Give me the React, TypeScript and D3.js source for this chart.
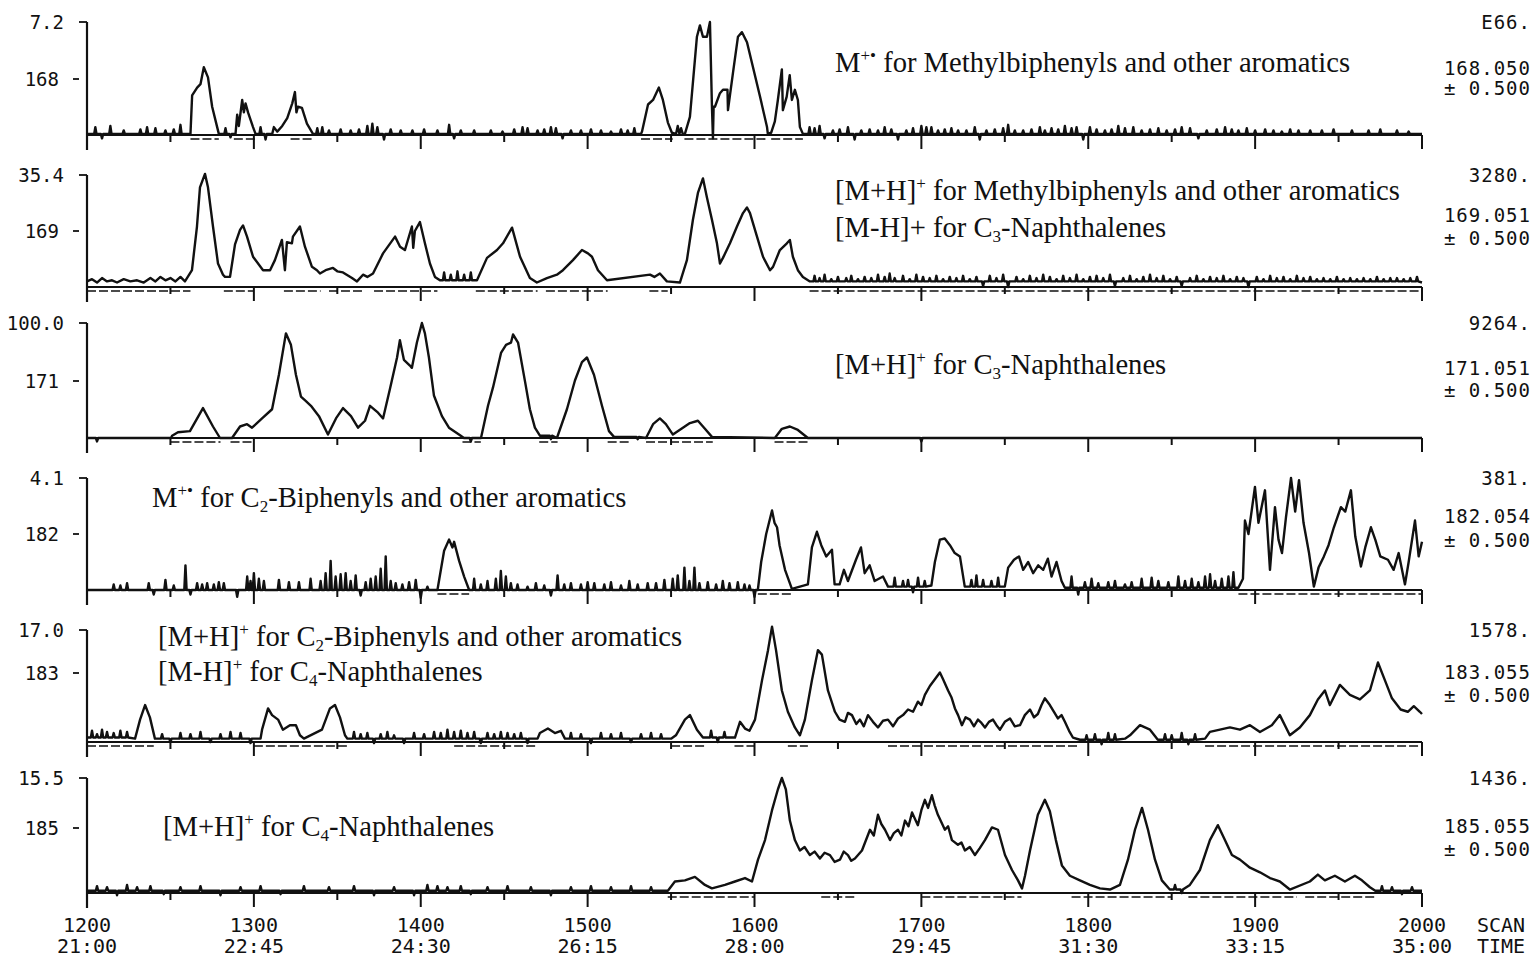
import React, { useEffect, useRef } from 'react';
import * as d3 from 'd3';

// scan axis
const scanTicks = [1200, 1300, 1400, 1500, 1600, 1700, 1800, 1900, 2000];
const timeLabels = ['21:00', '22:45', '24:30', '26:15', '28:00', '29:45', '31:30', '33:15', '35:00'];

// per panel labels
const fullScale = ['7.2', '35.4', '100.0', '4.1', '17.0', '15.5'];
const massLabels = ['168', '169', '171', '182', '183', '185'];
const counts = ['E66.', '3280.', '9264.', '381.', '1578.', '1436.'];
const exactMass = ['168.050', '169.051', '171.051', '182.054', '183.055', '185.055'];
const massWindow = '\u00b1  0.500';

// traces: [scan, % of full scale]
const p1Trace = [[1200,1],[1262,1],[1263,35],[1266,42],[1268,45],[1270,60],[1272.5,51],[1275,25],[1278,7],[1279,1],
  [1289,1],[1290,18],[1291,8],[1293,31],[1294,20],[1295,28],[1296.5,20],[1299.5,7],[1301,1],
  [1311,1],[1312,7],[1314,3],[1317,8],[1320,15],[1323,28],[1324.6,38],[1325.5,20],[1326.4,25],[1328.8,24],[1331.8,10],[1335.4,1],
  [1532,1],[1532.6,3],[1536.2,27],[1539.2,31],[1542.7,42],[1545.1,31],[1548.1,11],[1550.5,2],
  [1553,1],[1554,8],[1555,1],[1556,6],[1557,1],
  [1558.3,1],[1561.3,16],[1565.5,87],[1567.3,97],[1569.1,87],[1571.5,87],[1573.3,100],[1574.5,25],[1575.1,-3],[1575.5,25],[1576.3,25],[1579.3,37],[1581.1,40],[1583.8,40],[1584.1,22],[1587.1,55],[1590.1,87],[1592.5,91],[1595.5,82],[1599.1,60],[1603.3,34],[1607.5,7],[1608,1],
  [1610,2],[1612.2,12],[1614,31],[1616.4,58],[1617,22],[1619.3,34],[1621.1,53],[1622.4,31],[1624.2,40],[1626,31],[1627.2,7],[1629,1],[2000,1]];

const p2Trace = [[1200,5],[1203,7],[1206,4],[1209,8],[1212,5],[1215,6],[1218,4],[1222,7],[1226,5],[1230,6],[1234,4],[1238,8],[1241,5],[1244,9],[1247,6],[1250,8],[1253,5],[1256,9],[1258.7,5],
  [1262.9,15],[1265.9,54],[1267.7,89],[1270.7,101],[1272.5,89],[1275.5,54],[1278.5,21],[1281.5,11],[1282.7,9],
  [1285.7,9],[1288.7,38],[1291.7,51],[1293.5,55],[1295.9,45],[1299.5,27],[1305.5,15],[1309.7,15],
  [1312.6,24],[1316.8,42],[1318.6,15],[1319.8,40],[1322.8,39],[1323.4,45],[1327.6,54],[1330.6,36],[1334.8,18],[1337.8,15],
  [1339.6,12],[1343,15],[1347.4,17],[1350,14],[1353.4,13],[1358.8,8],[1361.8,5],
  [1365.4,11],[1368,9],[1371.4,12],[1377.4,30],[1384.6,45],[1387.6,36],[1390.5,33],[1394.7,54],[1395.5,35],[1396.5,50],[1399.5,58],[1402.5,39],[1405.5,21],[1408.5,9],[1411.5,6],
  [1433.7,6],[1439.7,26],[1445.7,33],[1449.3,39],[1454.7,53],[1459.5,27],[1465.4,8],[1469.6,4],
  [1475.6,8],[1481.6,11],[1485.2,15],[1491.2,24],[1496.6,33],[1500.2,30],[1502.6,27],[1506.2,15],[1511.6,6],
  [1537.4,11],[1540,9],[1543.3,12],[1547.5,5],
  [1555.3,4],[1559.5,24],[1563.1,60],[1566.1,84],[1569.1,97],[1571.5,80],[1574.5,60],[1577.5,39],[1579.3,21],[1581.1,26],[1585.3,39],[1589.5,54],[1593.1,66],[1595.5,71],[1597.3,66],[1601.5,45],[1605.1,27],[1609.3,15],[1611.1,18],[1615.2,33],[1619.4,39],[1621.2,42],[1623,27],[1626,15],[1629,9],[1633.2,5],[2000,4]];

const p3Trace = [[1200,0],[1250.3,0],[1251,2],[1254.5,5],[1261.7,6],[1269.5,26],[1275.5,10],[1279.7,0],
  [1286.9,0],[1291.7,10],[1295.9,12],[1298.9,9],[1304.9,17],[1310.9,25],[1315,55],[1319.2,91],[1322.2,81],[1325.2,55],[1328.2,36],[1331.2,32],[1334.2,28],[1339,19],[1344.4,3],
  [1349.2,17],[1353.4,26],[1358.2,19],[1362.4,9],[1366.6,15],[1369.6,28],[1374.4,22],[1377.4,17],[1381.6,43],[1385.8,70],[1387.5,85],[1389.9,68],[1393.5,63],[1394.7,61],[1397.7,83],[1400.7,100],[1402.5,91],[1404.9,70],[1407.9,37],[1412.7,19],[1416.9,9],[1422.9,3],[1425.9,0],
  [1436.1,0],[1440.3,28],[1443.3,44],[1448.1,74],[1451.1,81],[1454.1,83],[1455.3,90],[1458.3,83],[1462.5,49],[1465.4,25],[1468.4,9],[1471.4,2],
  [1481.6,0],[1487.6,25],[1492.4,50],[1496.6,66],[1499.6,70],[1503.8,55],[1508.6,28],[1512.8,6],[1515.8,1],
  [1535,0],[1539.2,12],[1543.3,17],[1546.9,12],[1551.1,3],[1557.1,9],[1561.3,13],[1566.1,15],[1570.3,8],[1574.5,1],
  [1612.2,0],[1616.4,8],[1621.2,10],[1626,7],[1632,0],[2000,0]];

const p4Trace = [[1200,0],
  [1410,0],[1414,35],[1417,45],[1419,38],[1420,43],[1423,26],[1426,12],[1429,0],
  [1602,0],[1604,25],[1607,50],[1610.5,71],[1612,60],[1613.5,56],[1615,40],[1618.3,18],[1622.4,1],
  [1632,5],[1634.4,38],[1637.4,52],[1640,40],[1643,30],[1646.4,36],[1648,5],[1651,5],[1653.6,18],[1656,8],[1660.8,27],[1663.8,38],[1666,15],[1669,22],[1672,8],[1677,12],[1680,3],
  [1706,4],[1708.1,25],[1711.1,45],[1714,46],[1717.1,40],[1720,33],[1723.1,30],[1726,3],
  [1750,3],[1752,20],[1755.5,27],[1758.5,30],[1761,18],[1764,25],[1767,15],[1770,22],[1773,18],[1775.8,28],[1778,12],[1781,25],[1784,8],[1786,2],
  [1890,2],[1892.7,10],[1893.9,62],[1896,50],[1899.9,92],[1902,60],[1905.9,89],[1908.9,18],[1911.9,74],[1914,45],[1916.1,33],[1918.5,65],[1921.5,100],[1924,70],[1926.3,98],[1929,60],[1932.3,33],[1935.2,3],[1938,20],[1941.2,30],[1944,40],[1947.2,56],[1951.4,74],[1954,70],[1957.4,89],[1960,48],[1963.4,21],[1966,38],[1969.4,56],[1972,45],[1975,30],[1979.6,27],[1983,18],[1986,33],[1989.8,5],[1992,25],[1995.8,62],[1998,30],[2000,43]];

const p5Trace = [[1200,4],[1228.8,3],[1231.8,20],[1234.8,33],[1237.7,22],[1240.7,3],
  [1304,3],[1304.9,11],[1308.5,30],[1310.9,24],[1314.5,20],[1317.4,11],[1321.6,15],[1325.2,15],[1327.6,6],[1330,3],
  [1340.8,11],[1345.6,30],[1348.6,33],[1351.6,22],[1354.6,6],[1356,3],
  [1470,3],[1471.4,8],[1476.2,12],[1480.4,8],[1484,10],[1486.4,3],
  [1550,3],[1552.9,6],[1558.3,20],[1561.3,24],[1565.5,11],[1569.1,4],
  [1588.3,4],[1591.3,18],[1594.3,12],[1597,10],[1600.3,20],[1604.5,55],[1608.1,82],[1610.5,103],[1612.9,82],[1616.4,46],[1620,27],[1624.2,13],[1627.2,6],[1630.2,20],[1634.4,55],[1638,82],[1640.4,78],[1644,46],[1648.2,27],[1651,20],[1654.2,18],[1656,26],[1658.4,24],[1661,16],[1663.2,20],[1665.5,14],[1668,24],[1671,18],[1674,13],[1677,19],[1680,20],[1683,14],[1686,21],[1689,24],[1692,29],[1695,27],[1697.9,36],[1700,33],[1702.1,42],[1705.1,50],[1708.1,56],[1711.1,62],[1713,56],[1716,46],[1718,40],[1720.1,30],[1722,24],[1724.3,15],[1726.5,22],[1729.1,20],[1731.5,14],[1733.9,20],[1736,17],[1738.1,13],[1740.5,18],[1742.9,20],[1745,15],[1747.1,11],[1750,18],[1753.1,21],[1756,14],[1759.1,15],[1762,24],[1765.1,29],[1767.5,22],[1769.8,25],[1772,33],[1774,39],[1777,33],[1779,28],[1781.8,21],[1784,24],[1786,18],[1788.5,10],[1790.8,4],[1795,2],
  [1822,3],[1825,6],[1831,15],[1837,11],[1841.7,2],
  [1870,3],[1872.9,9],[1878.9,11],[1884.9,13],[1890.9,11],[1896.9,15],[1902.9,9],[1910,15],[1914.8,24],[1920.8,6],[1926.8,13],[1932.8,24],[1937.6,38],[1941.8,46],[1944.8,33],[1950.8,51],[1956.8,42],[1962.8,38],[1968.8,46],[1973.6,71],[1977.8,55],[1982,39],[1987.2,29],[1991.5,27],[1995.1,32],[1998.7,27],[2000,25]];

const p6Trace = [[1200,2],[1548.1,2],[1552.3,10],[1558.3,11],[1564.3,14],[1570.3,7],[1574.5,4],[1582.3,7],[1588.3,10],[1594.3,13],[1598.5,10],[1602.1,29],[1606.3,46],[1610.5,72],[1614,90],[1616.4,100],[1618.8,90],[1621.2,63],[1624.2,46],[1627.2,37],[1630,40],[1633.2,33],[1636,36],[1639.2,30],[1642,35],[1645.2,33],[1648,27],[1651.2,29],[1653.5,36],[1656,33],[1658,28],[1660.2,30],[1664.4,37],[1669.2,55],[1671.5,50],[1674,68],[1676,60],[1678.2,55],[1681.2,46],[1683.5,52],[1686,55],[1688,50],[1690.2,63],[1692.3,58],[1694.4,70],[1697.9,59],[1700,72],[1702.1,81],[1704,74],[1706.3,85],[1708,76],[1709.9,68],[1714.1,55],[1716,58],[1718.3,46],[1721.9,42],[1724,44],[1726.1,37],[1729,40],[1732.1,33],[1735,39],[1738.1,46],[1742.3,57],[1745.9,55],[1750.1,33],[1754.3,20],[1757.9,11],[1760.3,4],[1762.1,15],[1765.1,37],[1769.8,68],[1774,81],[1777,71],[1780.6,46],[1784.2,24],[1789,15],[1795,11],[1801,7],[1807,4],[1813,3],[1819,7],[1823.8,29],[1828,55],[1832.2,74],[1835.8,55],[1840,29],[1844.1,11],[1848.9,3],
  [1860.9,7],[1866.9,20],[1872.9,46],[1877.7,59],[1881.9,46],[1886.1,33],[1890.9,29],[1896.9,22],[1902.9,18],[1908.9,13],[1914.8,10],[1920.8,3],
  [1932.8,10],[1937.6,16],[1941.8,11],[1947.8,15],[1953.8,10],[1959.8,15],[1964,11],[1968.8,5],[1972,2],[2000,2]];

// baseline noise spikes: [scan, %]
const p1Noise = [[1205,6],[1209,-4],[1214,7],[1222,3],[1232,4],[1236,6],[1241,5],[1247,3],[1252,4],[1256,8],[1283,5],[1286,-3],[1304,6],[1307,-5],
  [1338,5],[1341,6],[1345,3],[1352,4],[1358,3],[1363,4],[1368,7],[1371,9],[1374,6],[1378,-5],[1382,4],[1388,3],[1395,3],[1402,4],[1410,3],[1417,8],[1420,-4],[1424,3],[1432,3],[1442,3],[1449,2],[1456,4],[1461,6],[1464,5],[1470,3],[1474,4],[1478,6],[1481,5],[1485,-4],[1490,3],[1496,3],[1502,4],[1508,3],[1514,2],[1520,4],[1524,3],[1528,5],
  [1633,6],[1636,5],[1639,7],[1642,-4],[1647,3],[1651,4],[1656,6],[1660,-5],[1664,3],[1669,4],[1674,3],[1678,6],[1682,4],[1686,-5],[1691,3],[1695,5],[1700,7],[1703,6],[1706,6],[1710,3],[1714,4],[1718,5],[1722,3],[1727,3],[1732,6],[1735,-5],[1739,3],[1744,4],[1749,5],[1752,8],[1756,3],[1761,3],[1766,4],[1771,6],[1774,3],[1778,5],[1782,4],[1786,7],[1790,5],[1793,6],[1797,-5],[1801,6],[1805,4],[1810,3],[1814,4],[1818,7],[1822,5],[1827,6],[1832,3],[1837,4],[1842,5],[1847,3],[1852,4],[1856,6],[1861,5],[1866,-4],[1871,3],[1877,4],[1882,6],[1886,4],[1890,3],[1895,5],[1900,3],[1906,4],[1911,3],[1916,2],[1921,4],[1926,3],[1933,3],[1940,3],[1947,4],[1958,3],[1968,3],[1975,4],[1985,3],[1992,2]];

const p2Noise = [[1414,7],[1418,5],[1422,8],[1426,5],[1430,7],[1515,8],[1519,5],[1523,-3],[1527,7],[1531,4],
  [1636,5],[1639,3],[1642,6],[1646,2],[1650,4],[1655,3],[1658,5],[1662,2],[1666,4],[1670,3],[1674,6],[1678,4],[1681,7],[1684,3],[1689,5],[1693,2],[1697,6],[1701,4],[1705,3],[1709,5],[1713,2],[1717,4],[1721,3],[1725,5],[1729,2],[1733,4],[1737,-4],[1741,5],[1745,3],[1749,6],[1752,-5],[1757,4],[1761,2],[1765,5],[1769,3],[1773,6],[1777,4],[1781,2],[1785,5],[1789,3],[1793,6],[1797,2],[1801,4],[1805,5],[1809,3],[1813,6],[1816,-4],[1821,3],[1825,5],[1829,2],[1833,4],[1837,6],[1841,3],[1845,5],[1849,2],[1853,4],[1856,-4],[1861,3],[1865,5],[1869,2],[1873,4],[1877,3],[1881,5],[1885,2],[1889,4],[1893,3],[1896,-5],[1901,4],[1905,2],[1909,5],[1913,3],[1917,4],[1921,2],[1925,5],[1929,3],[1933,4],[1937,2],[1941,3],[1945,2],[1949,4],[1953,2],[1957,3],[1961,2],[1965,3],[1969,2],[1973,4],[1977,2],[1981,3],[1985,3],[1989,2],[1993,3],[1997,4]];

const p3Noise = [[1206,-3],[1430,-3],[1478,-3],[1530,-2],[1700,-3]];

const p4Noise = [[1216,5],[1220,4],[1224,6],[1237,6],[1240,-4],[1247,9],[1252,4],[1259,22],[1262,-4],[1266,6],[1269,5],[1272,6],[1276,5],[1279,7],[1282,6],[1290,-6],[1296,12],[1298,8],[1300,15],[1303,10],[1306,8],[1315,9],[1321,7],[1327,7],[1334,10],[1340,8],[1343,15],[1346,26],[1349,12],[1352,14],[1355,15],[1358,8],[1361,13],[1364,-5],[1367,7],[1370,10],[1373,12],[1376,19],[1379,30],[1382,8],[1385,6],[1389,5],[1393,7],[1397,9],[1400,-7],[1404,3],
  [1432,10],[1436,5],[1440,8],[1445,10],[1448,17],[1451,12],[1454,6],[1458,5],[1464,3],[1469,6],[1474,4],[1478,-5],[1482,13],[1486,5],[1490,6],[1496,5],[1500,7],[1504,6],[1510,5],[1514,7],[1520,4],[1525,8],[1530,5],[1536,6],[1541,6],[1546,9],[1551,10],[1554,13],[1558,20],[1561,8],[1564,20],[1567,6],[1572,7],[1577,5],[1581,8],[1585,6],[1590,7],[1594,5],[1597,4],[1600,-6],
  [1684,8],[1689,5],[1692,6],[1695,-5],[1698,8],[1702,5],[1730,6],[1733,10],[1737,6],[1742,5],[1746,8],[1790,10],[1794,-6],[1798,5],[1802,8],[1806,4],[1812,5],[1816,6],[1822,3],[1826,5],[1832,8],[1838,9],[1842,6],[1848,5],[1854,10],[1858,6],[1862,8],[1866,5],[1870,10],[1873,12],[1876,6],[1880,8],[1884,10],[1887,14]];

const p5Noise = [[1203,6],[1206,3],[1209,7],[1212,5],[1216,4],[1220,6],[1224,5],[1245,4],[1250,-3],[1256,5],[1262,4],[1268,6],[1274,-3],[1280,4],[1286,6],[1292,5],[1298,-4],[1334,5],[1337,-3],[1360,6],[1364,4],[1368,5],[1372,-4],[1376,4],[1380,6],[1384,3],[1390,-4],[1396,5],[1402,4],[1408,6],[1412,5],[1416,8],[1420,6],[1424,7],[1428,5],[1432,6],[1436,-4],[1440,5],[1444,4],[1448,6],[1452,5],[1456,4],[1460,5],[1464,-4],[1490,5],[1496,4],[1502,-4],[1508,5],[1514,4],[1520,5],[1526,-3],[1532,4],[1538,5],[1544,4],[1574,6],[1578,-4],[1582,5],[1799,4],[1804,5],[1808,-4],[1812,6],[1816,5],[1846,5],[1850,4],[1856,6],[1860,-4],[1864,5]];

const p6Noise = [[1206,4],[1212,3],[1218,-4],[1224,5],[1230,3],[1238,4],[1246,-3],[1256,3],[1268,4],[1280,-4],[1292,3],[1304,4],[1316,-3],[1330,4],[1345,3],[1360,4],[1372,-4],[1384,3],[1396,-4],[1404,5],[1410,4],[1416,3],[1424,4],[1430,-3],[1440,3],[1452,4],[1466,3],[1478,-4],[1490,3],[1502,4],[1514,3],[1526,4],[1538,3],[1852,4],[1856,-3],[1924,4],[1928,-3],[1976,4],[1982,3],[1988,-3],[1994,3]];

// integration marks drawn under the baseline: [fromScan, toScan]
const p1Marks = [[1262,1279],[1288,1301],[1322,1336],[1532,1551],[1558,1608],[1610,1629]];
const p2Marks = [[1200,1262],[1282,1300],[1318,1340],[1345,1365],[1372,1410],[1433,1470],[1475,1512],[1537,1548],[1633,2000]];
const p3Marks = [[1250,1280],[1286,1300],[1425,1436],[1471,1482],[1512,1525],[1535,1575],[1612,1632]];
const p4Marks = [[1410,1429],[1602,1622],[1890,2000]];
const p5Marks = [[1200,1240],[1300,1356],[1420,1470],[1550,1570],[1588,1600],[1620,1632],[1680,1795],[1870,2000]];
const p6Marks = [[1548,1600],[1640,1660],[1700,1760],[1790,1850],[1860,1925],[1930,1972]];

// annotation lines: [text, 'sup' | 'sub' | '']
const p1Notes = [[['M',''],['+\u2022','sup'],[' for Methylbiphenyls and other aromatics','']]];
const p2Notes = [[['[M+H]',''],['+','sup'],[' for Methylbiphenyls and other aromatics','']],
  [['[M-H]+ for C',''],['3','sub'],['-Naphthalenes','']]];
const p3Notes = [[['[M+H]',''],['+','sup'],[' for C',''],['3','sub'],['-Naphthalenes','']]];
const p4Notes = [[['M',''],['+\u2022','sup'],[' for C',''],['2','sub'],['-Biphenyls and other aromatics','']]];
const p5Notes = [[['[M+H]',''],['+','sup'],[' for C',''],['2','sub'],['-Biphenyls and other aromatics','']],
  [['[M-H]',''],['+','sup'],[' for C',''],['4','sub'],['-Naphthalenes','']]];
const p6Notes = [[['[M+H]',''],['+','sup'],[' for C',''],['4','sub'],['-Naphthalenes','']]];

const traces = [p1Trace, p2Trace, p3Trace, p4Trace, p5Trace, p6Trace];
const noises = [p1Noise, p2Noise, p3Noise, p4Noise, p5Noise, p6Noise];
const marks = [p1Marks, p2Marks, p3Marks, p4Marks, p5Marks, p6Marks];
const notes = [p1Notes, p2Notes, p3Notes, p4Notes, p5Notes, p6Notes];

// layout
const tops = [22, 175, 323, 478, 630, 778];
const bases = [135, 287, 438, 590, 742, 893];
const midY = [79, 231, 381, 534, 673, 828];
const noteX = [835, 835, 835, 152, 158, 163];
const noteY = [[72], [200, 237], [374], [507], [646, 681], [836]];
const rightY = [[22, 68, 88], [175, 215, 238], [323, 368, 390], [478, 516, 540], [630, 672, 695], [778, 826, 849]];

const MONO = "'DejaVu Sans Mono', 'Liberation Mono', monospace";
const SERIF = "'Liberation Serif', 'Times New Roman', serif";
const INK = '#111';
const NOTE_SIZE = 28.6;

// put noise spikes into the flat stretches between peaks
const mergeNoise = (trace, noise) => {
  const out = [];
  for (let i = 0; i < trace.length; i++) {
    const p = trace[i];
    out.push(p);
    const q = trace[i + 1];
    if (!q) break;
    if (q[0] - p[0] > 3 && p[1] <= 8 && q[1] <= 8) {
      const lvl = p[1];
      noise
        .filter(n => n[0] > p[0] + 1 && n[0] < q[0] - 1)
        .forEach(n => {
          out.push([n[0] - 0.7, lvl]);
          out.push([n[0], lvl + n[1]]);
          out.push([n[0] + 0.7, lvl]);
        });
    }
  }
  return out;
};

export default function App() {
  const ref = useRef(null);

  useEffect(() => {
    document.body.style.margin = '0';
    const svg = d3.select(ref.current);
    svg.selectAll('*').remove();

    const x = d3.scaleLinear().domain([1200, 2000]).range([87, 1422]);
    const allTicks = x.ticks(16);

    traces.forEach((trace, i) => {
      const base = bases[i];
      const y = d3.scaleLinear().domain([0, 100]).range([base, tops[i]]);
      const g = svg.append('g');

      /* ------- AXES -------*/
      g.append('line')
        .attr('x1', x(1200)).attr('x2', x(2000))
        .attr('y1', base).attr('y2', base)
        .attr('stroke', INK).attr('stroke-width', 1.8);
      g.selectAll('line.tick')
        .data(allTicks.filter(t => t > 1200))
        .enter()
        .append('line')
        .attr('class', 'tick')
        .attr('x1', d => x(d)).attr('x2', d => x(d))
        .attr('y1', base).attr('y2', d => base + (d % 100 === 0 ? 14 : 7))
        .attr('stroke', INK).attr('stroke-width', 2);
      g.append('line')
        .attr('x1', x(1200)).attr('x2', x(1200))
        .attr('y1', tops[i]).attr('y2', base + 15)
        .attr('stroke', INK).attr('stroke-width', 2.2);
      g.append('line')
        .attr('x1', x(1200) - 8).attr('x2', x(1200))
        .attr('y1', tops[i]).attr('y2', tops[i])
        .attr('stroke', INK).attr('stroke-width', 1.8);
      g.append('line')
        .attr('x1', x(1200) - 14).attr('x2', x(1200) - 8)
        .attr('y1', midY[i]).attr('y2', midY[i])
        .attr('stroke', INK).attr('stroke-width', 1.8);

      g.append('text')
        .attr('x', 64).attr('y', tops[i])
        .attr('text-anchor', 'end').attr('dominant-baseline', 'central')
        .attr('font-family', MONO).attr('font-size', 19)
        .attr('fill', INK).text(fullScale[i]);
      g.append('text')
        .attr('x', 59).attr('y', midY[i])
        .attr('text-anchor', 'end').attr('dominant-baseline', 'central')
        .attr('font-family', MONO).attr('font-size', 19)
        .attr('fill', INK).text(massLabels[i]);

      /* ------- RIGHT LABELS -------*/
      [counts[i], exactMass[i], massWindow].forEach((t, k) => {
        g.append('text')
          .attr('x', 1531).attr('y', rightY[i][k])
          .attr('text-anchor', 'end').attr('dominant-baseline', 'central')
          .attr('font-family', MONO).attr('font-size', 19)
          .attr('letter-spacing', 1)
          .attr('fill', INK).text(t);
      });

      /* ------- INTEGRATION MARKS -------*/
      g.selectAll('line.mark')
        .data(marks[i])
        .enter()
        .append('line')
        .attr('class', 'mark')
        .attr('x1', d => x(d[0])).attr('x2', d => x(d[1]))
        .attr('y1', base + 4).attr('y2', base + 4)
        .attr('stroke', INK).attr('stroke-width', 1.6)
        .attr('stroke-dasharray', '9 3');

      /* ------- TRACE -------*/
      const line = d3.line().x(d => x(d[0])).y(d => y(d[1]));
      g.append('path')
        .attr('d', line(mergeNoise(trace, noises[i])))
        .attr('fill', 'none')
        .attr('stroke', INK)
        .attr('stroke-width', 2.4)
        .attr('stroke-linejoin', 'round');

      /* ------- ANNOTATIONS -------*/
      notes[i].forEach((segs, k) => {
        const t = g.append('text')
          .attr('x', noteX[i]).attr('y', noteY[i][k])
          .attr('font-family', SERIF).attr('font-size', NOTE_SIZE)
          .attr('fill', INK);
        let shift = 0;
        segs.forEach(([s, kind]) => {
          const target = kind === 'sup' ? -11 : kind === 'sub' ? 5 : 0;
          t.append('tspan')
            .attr('dy', target - shift)
            .attr('font-size', kind ? 17 : NOTE_SIZE)
            .text(s);
          shift = target;
        });
      });
    });

    /* ------- BOTTOM SCALE -------*/
    const b = svg.append('g');
    b.selectAll('text.scan')
      .data(scanTicks)
      .enter()
      .append('text')
      .attr('class', 'scan')
      .attr('x', d => x(d)).attr('y', 925)
      .attr('text-anchor', 'middle').attr('dominant-baseline', 'central')
      .attr('font-family', MONO).attr('font-size', 20)
      .attr('fill', INK).text(d => d);
    b.selectAll('text.time')
      .data(timeLabels)
      .enter()
      .append('text')
      .attr('class', 'time')
      .attr('x', (d, k) => x(scanTicks[k])).attr('y', 946)
      .attr('text-anchor', 'middle').attr('dominant-baseline', 'central')
      .attr('font-family', MONO).attr('font-size', 20)
      .attr('fill', INK).text(d => d);
    b.append('text')
      .attr('x', 1501).attr('y', 925)
      .attr('text-anchor', 'middle').attr('dominant-baseline', 'central')
      .attr('font-family', MONO).attr('font-size', 20)
      .attr('fill', INK).text('SCAN');
    b.append('text')
      .attr('x', 1501).attr('y', 946)
      .attr('text-anchor', 'middle').attr('dominant-baseline', 'central')
      .attr('font-family', MONO).attr('font-size', 20)
      .attr('fill', INK).text('TIME');
  }, []);

  return (
    <svg ref={ref} width={1540} height={961} style={{ display: 'block', background: '#fff' }} />
  );
}
